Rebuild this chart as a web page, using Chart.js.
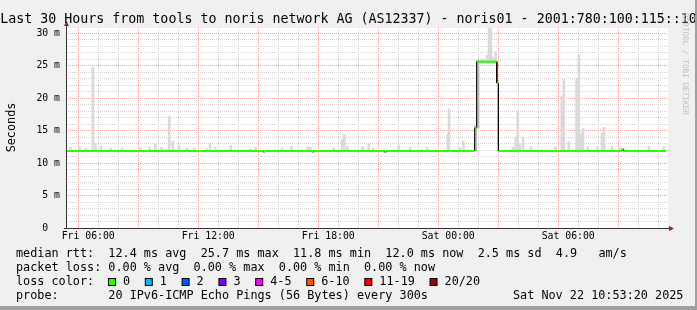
<!DOCTYPE html>
<html>
<head>
<meta charset="utf-8">
<script src="https://cdn.jsdelivr.net/npm/chart.js@4/dist/chart.umd.min.js"></script>
<style>
  html, body { margin: 0; padding: 0; background: #f0f0f0; }
  canvas { display: block; }
</style>
</head>
<body>
<canvas id="grafica" width="697" height="310"></canvas>
<script>
// x values are hours since the start of the window (Fri 04:53:20)
const windowStart = 4 + 53 / 60 + 20 / 3600;
const windowEnd = 30;

// median rtt (ms), one step per change
const medianTimes  = [0, 9.87, 9.95, 12.30, 12.38, 15.93, 16.02, 20.43, 20.53, 21.54, 21.62, 27.80, 27.88];
const medianValues = [11.85, 11.7, 11.85, 11.7, 11.85, 11.7, 11.85, 15.4, 25.6, 22.3, 11.85, 12.1, 11.85];

// smoke above the baseline (top of the ping spread, ms)
const smokeBase = 11.8;
const smokeTimes = [0.23, 0.68, 1.00, 1.34, 1.48, 1.75, 2.23, 2.80, 3.72, 4.18,
  4.47, 4.78, 5.16, 5.34, 5.65, 6.05, 6.40, 7.03, 7.20, 7.45,
  8.24, 9.20, 9.48, 10.80, 11.28, 12.08, 12.22, 13.38, 13.81, 13.92,
  14.07, 14.83, 15.14, 15.36, 16.64, 17.21, 18.06, 19.09, 19.15, 19.70,
  19.87, 22.35, 22.48, 22.59, 22.69, 22.85, 23.25, 24.48, 24.79, 24.89,
  25.14, 25.53, 25.64, 25.74, 25.85, 26.08, 26.57, 26.80, 26.90, 27.30,
  27.70, 29.15, 29.89];
const smokeHigh = [12.4, 12.5, 12.3, 24.7, 13.0, 12.7, 12.3, 12.3, 12.4, 12.4,
  12.9, 12.4, 17.2, 13.4, 12.7, 12.3, 12.3, 12.2, 13.0, 12.4,
  12.7, 12.2, 12.4, 12.3, 12.6, 12.5, 12.4, 12.3, 13.6, 14.4,
  12.6, 12.5, 12.9, 12.3, 12.7, 12.4, 12.4, 14.4, 18.3, 12.4,
  13.4, 12.4, 14.0, 18.0, 13.0, 14.0, 12.5, 12.5, 20.3, 22.9,
  13.3, 22.9, 26.6, 14.5, 15.3, 12.5, 12.5, 14.6, 15.5, 12.6,
  12.4, 12.6, 12.5];

// smoke during the high plateau
const plateauTimes = [20.75, 20.90, 21.05, 21.15, 21.24, 21.36, 21.49];
const plateauLow   = [25.3, 25.3, 25.3, 25.3, 25.3, 25.3, 25.3];
const plateauHigh  = [26.0, 26.0, 26.6, 32.0, 31.5, 26.3, 27.1];

// darker smoke on the rising edge
const riseTimes = [20.48, 20.60];
const riseLow   = [11.9, 15.4];
const riseHigh  = [15.7, 25.8];

const yMax = 30.77;
const yTickAt     = [0, 5, 10, 15, 20, 25, 30];
const yTickLabels = ['0  ', '5 m', '10 m', '15 m', '20 m', '25 m', '30 m'];
// hours of the day counted from Fri 00:00
const xTickAt     = [6, 12, 18, 24, 30];
const xTickLabels = ['Fri 06:00', 'Fri 12:00', 'Fri 18:00', 'Sat 00:00', 'Sat 06:00'];

const titleText = 'Last 30 Hours from tools to noris network AG (AS12337) - noris01 - 2001:780:100:115::10';
const legendLines = [
  'median rtt:  12.4 ms avg  25.7 ms max  11.8 ms min  12.0 ms now  2.5 ms sd  4.9   am/s',
  'packet loss: 0.00 % avg  0.00 % max  0.00 % min  0.00 % now'
];
const lossLabels = ['0', '1', '2', '3', '4-5', '6-10', '11-19', '20/20'];
const lossColors = ['#26ff00', '#00b8ff', '#0059ff', '#7e00ff', '#ff00ff', '#ff5500', '#ff0000', '#a00000'];
const probeText = 'probe:       20 IPv6-ICMP Echo Pings (56 Bytes) every 300s';
const stampText = 'Sat Nov 22 10:53:20 2025';

const mono = '"DejaVu Sans Mono", monospace';
const green = lossColors[0];
const gridRed = '#f2a2a2';
const gridGray = '#d4d4d4';

// corner points of the step line
const stepPts = [];
medianTimes.forEach((t, i) => {
    if (i > 0) stepPts.push({x: t, y: medianValues[i - 1]});
    stepPts.push({x: t, y: medianValues[i]});
});
stepPts.push({x: windowEnd, y: medianValues[medianValues.length - 1]});

const smokeData = smokeTimes.map((t, i) => ({x: t, y: [smokeBase, smokeHigh[i]]}))
    .concat(plateauTimes.map((t, i) => ({x: t, y: [plateauLow[i], plateauHigh[i]]})));
const riseData = riseTimes.map((t, i) => ({x: t, y: [riseLow[i], riseHigh[i]]}));

const hourTicks = [];
for (let h = Math.ceil(windowStart); h - windowStart < windowEnd; h++) hourTicks.push(h);

function xGridColor(c) {
    if (!c.tick) return gridGray;
    return Math.round(c.tick.value + windowStart) % 3 === 0 ? gridRed : gridGray;
}
function yGridColor(c) {
    if (!c.tick) return gridGray;
    return Math.round(c.tick.value) % 5 === 0 ? gridRed : gridGray;
}

const rrdLook = {
    id: 'rrdLook',
    beforeDraw(chart) {
        const ctx = chart.ctx;
        const a = chart.chartArea;
        ctx.save();
        ctx.fillStyle = '#f0f0f0';
        ctx.fillRect(0, 0, chart.width, chart.height);
        ctx.fillStyle = '#ffffff';
        ctx.fillRect(a.left, a.top, a.right - a.left, a.bottom - a.top);
        ctx.restore();
    },
    afterDraw(chart) {
        const ctx = chart.ctx;
        const a = chart.chartArea;
        ctx.save();

        // axes and arrows
        ctx.strokeStyle = '#333';
        ctx.lineWidth = 1;
        ctx.beginPath();
        ctx.moveTo(a.left + 0.5, a.bottom + 1);
        ctx.lineTo(a.left + 0.5, a.top - 2);
        ctx.moveTo(a.left - 2, a.bottom + 0.5);
        ctx.lineTo(a.right + 2, a.bottom + 0.5);
        ctx.stroke();
        ctx.fillStyle = '#9c2020';
        ctx.beginPath();
        ctx.moveTo(a.left + 0.5, a.top - 7);
        ctx.lineTo(a.left + 3, a.top - 2);
        ctx.lineTo(a.left - 2, a.top - 2);
        ctx.fill();
        ctx.beginPath();
        ctx.moveTo(a.right + 6, a.bottom + 0.5);
        ctx.lineTo(a.right + 1, a.bottom + 3);
        ctx.lineTo(a.right + 1, a.bottom - 2);
        ctx.fill();

        // title
        ctx.fillStyle = '#000';
        ctx.font = '13.3px ' + mono;
        ctx.textAlign = 'center';
        ctx.textBaseline = 'alphabetic';
        ctx.fillText(titleText, chart.width / 2, 23);

        // y title
        ctx.save();
        ctx.font = '11.8px ' + mono;
        ctx.translate(14.5, 127.5);
        ctx.rotate(-Math.PI / 2);
        ctx.fillText('Seconds', 0, 0);
        ctx.restore();

        // watermark
        ctx.save();
        ctx.fillStyle = '#bdbdbd';
        ctx.font = '7.7px ' + mono;
        ctx.textAlign = 'left';
        ctx.translate(683, 13);
        ctx.rotate(Math.PI / 2);
        ctx.fillText('RRDTOOL / TOBI OETIKER', 0, 0);
        ctx.restore();

        // legend
        ctx.font = '11.8px ' + mono;
        ctx.textAlign = 'left';
        ctx.fillStyle = '#000';
        ctx.fillText(legendLines[0], 16, 257);
        ctx.fillText(legendLines[1], 16, 271);
        ctx.fillText('loss color:', 16, 285);
        let bx = 108;
        lossLabels.forEach((lab, i) => {
            ctx.fillStyle = lossColors[i];
            ctx.fillRect(bx + 0.5, 278.5, 7, 7);
            ctx.strokeStyle = '#000';
            ctx.strokeRect(bx + 0.5, 278.5, 7, 7);
            ctx.fillStyle = '#000';
            ctx.fillText(lab, bx + 15, 285);
            bx = bx + 15 + ctx.measureText(lab).width + 14.7;
        });
        ctx.fillText(probeText, 16, 299);
        ctx.fillText(stampText, 513, 299);

        // frame
        ctx.fillStyle = '#a0a0a0';
        ctx.fillRect(chart.width - 2, 0, 2, chart.height);
        ctx.fillRect(0, chart.height - 4, chart.width, 4);
        ctx.restore();
    }
};

const ctx = document.getElementById('grafica').getContext('2d');
const myChart = new Chart(ctx, {
    type: 'bar',
    data: {
        datasets: [{
            type: 'line',
            data: stepPts,
            borderColor: green,
            borderWidth: 2,
            pointRadius: 0,
            segment: {
                borderColor: c => c.p0.parsed.y !== c.p1.parsed.y ? 'rgba(0,0,0,0)' : green
            },
            order: 0
        }, {
            type: 'line',
            data: stepPts,
            borderColor: '#000',
            borderWidth: 1,
            pointRadius: 0,
            order: 1
        }, {
            data: riseData,
            backgroundColor: '#b3b3b3',
            barThickness: 2,
            grouped: false,
            order: 2
        }, {
            data: smokeData,
            backgroundColor: '#dadada',
            barThickness: 2,
            grouped: false,
            order: 3
        }]
    },
    options: {
        responsive: false,
        animation: false,
        devicePixelRatio: 1,
        layout: { padding: { top: 28, right: 29, left: 0, bottom: 0 } },
        plugins: {
            legend: { display: false },
            tooltip: { enabled: false }
        },
        scales: {
            x: {
                type: 'linear',
                min: 0,
                max: 30.1,
                offset: false,
                afterBuildTicks: s => { s.ticks = hourTicks.map(h => ({value: h - windowStart})); },
                afterFit: s => { s.height = 82; },
                grid: {
                    color: xGridColor,
                    drawTicks: false
                },
                border: { display: false, dash: [1, 1] },
                ticks: {
                    autoSkip: false,
                    maxRotation: 0,
                    padding: 3,
                    color: '#000',
                    font: { family: mono, size: 9.8 },
                    callback: v => {
                        const i = xTickAt.indexOf(Math.round(v + windowStart));
                        return i >= 0 ? xTickLabels[i] : '';
                    }
                }
            },
            y: {
                min: 0,
                max: yMax,
                afterBuildTicks: s => {
                    const t = [];
                    for (let v = 0; v <= 30; v++) t.push({value: v});
                    s.ticks = t;
                },
                afterFit: s => { s.width = 66; },
                grid: {
                    color: yGridColor,
                    drawTicks: false
                },
                border: { display: false, dash: [1, 1] },
                ticks: {
                    autoSkip: false,
                    padding: 6,
                    color: '#000',
                    font: { family: mono, size: 9.8 },
                    callback: v => {
                        const i = yTickAt.indexOf(v);
                        return i >= 0 ? yTickLabels[i] : '';
                    }
                }
            }
        }
    },
    plugins: [rrdLook]
});
</script>
</body>
</html>
